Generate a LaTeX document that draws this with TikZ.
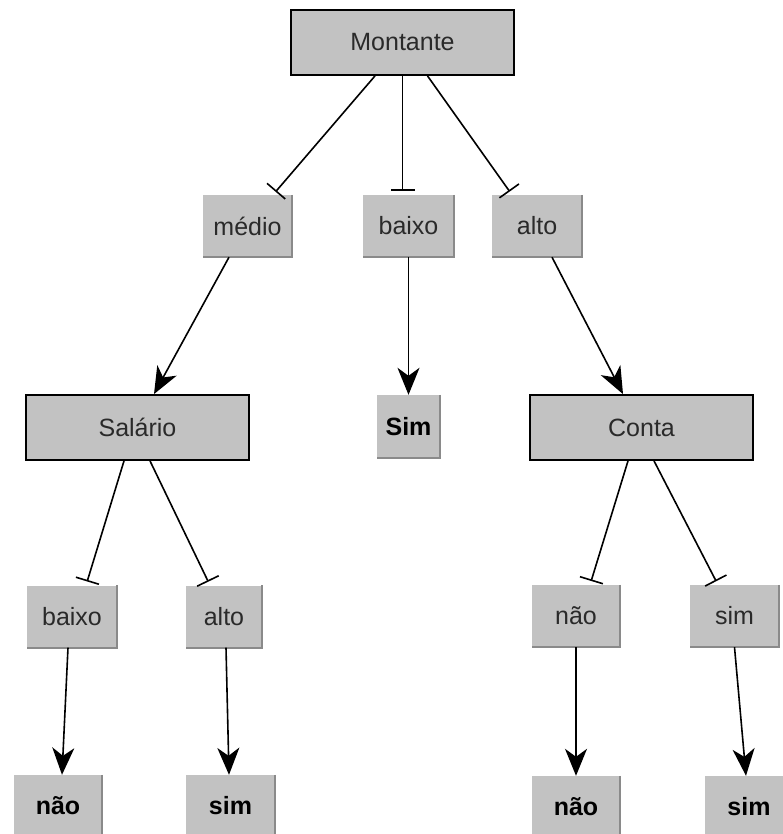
\documentclass[tikz,border=0pt]{standalone}
\usepackage{fontspec}
\setmainfont{Liberation Sans}
\usetikzlibrary{arrows.meta}
\definecolor{boxgray}{HTML}{C2C2C2}
\definecolor{edgegray}{HTML}{8A8A8A}
\definecolor{txtgray}{HTML}{2A2A2A}
\tikzset{
  attr/.style={draw=black, line width=1.8pt, fill=boxgray, text=txtgray,
    minimum width=223pt, minimum height=65pt, inner sep=0pt,
    font=\fontsize{25}{30}\selectfont},
  val/.style={fill=boxgray, text=txtgray, minimum height=62pt, inner sep=0pt,
    font=\fontsize{25}{30}\selectfont},
  leaf/.style={fill=boxgray, text=black, minimum width=88pt, minimum height=62pt,
    inner sep=0pt, font=\fontsize{25}{30}\selectfont\bfseries},
  branch/.style={line width=1.6pt, -{Bar[width=24pt,line width=1.6pt]}, shorten >=4pt},
  result/.style={line width=1.6pt, -{Stealth[length=27pt,width=22pt,inset=8pt]}},
  rim/.style={edgegray, line width=1.6pt}
}
\begin{document}
\begin{tikzpicture}[x=1pt,y=-1pt]
  \useasboundingbox[fill=white] (0,0) rectangle (782,834);
  % attributes
  \node[attr] (montante) at (402.5,42.5) {Montante};
  \node[attr] (salario) at (137.5,427.5) {Salário};
  \node[attr] (conta) at (641.5,427.5) {Conta};
  % values
  \node[val, minimum width=89pt] (medio) at (247.5,226) {médio};
  \node[val, minimum width=91pt] (baixoA) at (408.5,226) {baixo};
  \node[val, minimum width=90pt] (altoA) at (537,226) {alto};
  \node[val, minimum width=90pt] (baixoB) at (72,616.5) {baixo};
  \node[val, minimum width=76pt] (altoB) at (224,616.5) {alto};
  \node[val, minimum width=88pt] (naoB) at (576,616) {não};
  \node[val, minimum width=89pt] (simB) at (734.5,616) {sim};
  % leaves
  \node[leaf, minimum width=63pt, minimum height=63pt] (simA) at (408.5,426.5) {Sim};
  \node[leaf] (naoL) at (58,806) {não};
  \node[leaf, minimum width=89pt] (simL) at (230.5,806) {sim};
  \node[leaf] (naoR) at (576,807) {não};
  \node[leaf] (simR) at (749,807) {sim};
  % box rims
  \foreach \n in {medio,baixoA,altoA,baixoB,altoB,naoB,simB,simA,naoL,simL,naoR,simR}
    \draw[rim] (\n.north east) -- (\n.south east) -- (\n.south west);
  % branches
  \draw[branch] ([xshift=-27.5pt]montante.south) -- ([xshift=25.5pt]medio.north);
  \draw[branch] (montante.south) -- ([xshift=-6pt]baixoA.north);
  \draw[branch] ([xshift=25pt]montante.south) -- ([xshift=-25pt]altoA.north);
  \draw[branch] ([xshift=-13.5pt]salario.south) -- ([xshift=14pt]baixoB.north);
  \draw[branch] ([xshift=12.5pt]salario.south) -- ([xshift=-14pt]altoB.north);
  \draw[branch] ([xshift=-13.5pt]conta.south) -- ([xshift=14pt]naoB.north);
  \draw[branch] ([xshift=12.5pt]conta.south) -- ([xshift=-16.5pt]simB.north);
  % results
  \draw[result] ([xshift=-18.5pt]medio.south) -- ([xshift=16.5pt]salario.north);
  \draw[result] (baixoA.south) -- (simA.north);
  \draw[result] ([xshift=15pt]altoA.south) -- ([xshift=-18.5pt]conta.north);
  \draw[result] ([xshift=-4pt]baixoB.south) -- ([xshift=4pt]naoL.north);
  \draw[result] ([xshift=2pt]altoB.south) -- ([xshift=-1.5pt]simL.north);
  \draw[result] (naoB.south) -- (naoR.north);
  \draw[result] (simB.south) -- ([xshift=-3pt]simR.north);
\end{tikzpicture}
\end{document}
